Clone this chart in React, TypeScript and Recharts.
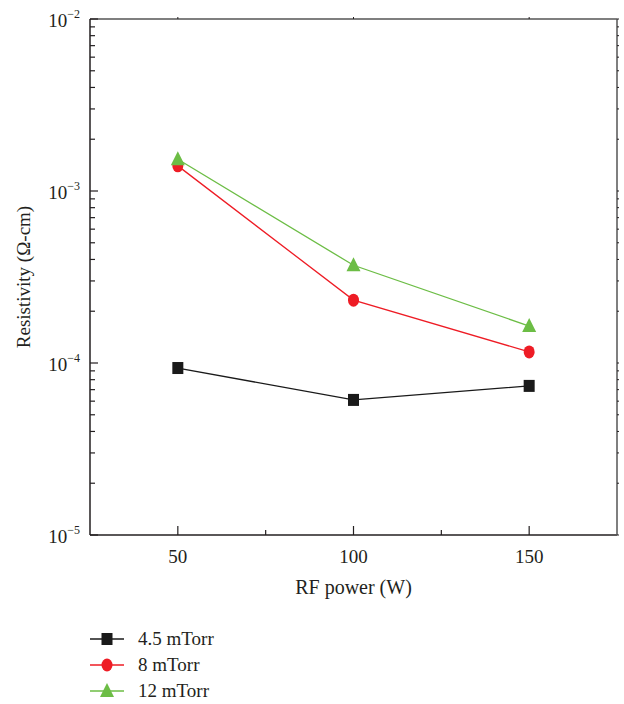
import { LineChart, Line, XAxis, YAxis } from "recharts";

const powers = [50, 100, 150];
const series45 = [9.35e-5, 6.1e-5, 7.36e-5];
const series8 = [1.4e-3, 2.32e-4, 1.16e-4];
const series12 = [1.53e-3, 3.7e-4, 1.64e-4];

const seriesNames = ["4.5 mTorr", "8 mTorr", "12 mTorr"];
const seriesColors = ["#1a1a1a", "#ee1c25", "#6cbd45"];
const seriesShapes = ["square", "circle", "triangle"];

const xTicks = [50, 75, 100, 125, 150];
const xLabelTicks = [50, 100, 150];
const decades = [1e-5, 1e-4, 1e-3, 1e-2];
const decadeExps = ["−5", "−4", "−3", "−2"];
const minorMults = [2, 3, 4, 5, 6, 7, 8, 9];

const yTicks: number[] = [];
decades.forEach((d, i) => {
  yTicks.push(d);
  if (i < decades.length - 1) minorMults.forEach((m) => yTicks.push(d * m));
});

const data = powers.map((p, i) => ({
  power: p,
  s45: series45[i],
  s8: series8[i],
  s12: series12[i],
}));

const FONT = "'Liberation Serif', 'Times New Roman', serif";
const AXIS = "#231f20";
const FRAME = "#555555";

const isDecade = (v: number) => decades.some((d) => Math.abs(v - d) / d < 1e-6);

const Marker = ({ shape, cx, cy, color }: any) => {
  if (cx == null || cy == null) return null;
  if (shape === "square") return <rect x={cx - 5.5} y={cy - 6} width={11} height={12} fill={color} />;
  if (shape === "circle") return <ellipse cx={cx} cy={cy} rx={5.5} ry={6.5} fill={color} />;
  return <polygon points={`${cx},${cy - 8} ${cx - 7},${cy + 6} ${cx + 7},${cy + 6}`} fill={color} />;
};

const LeftTick = ({ x, y, payload }: any) => {
  const major = isDecade(payload.value);
  const idx = decades.findIndex((d) => Math.abs(payload.value - d) / d < 1e-6);
  return (
    <g>
      <line x1={x} x2={x + (major ? 8 : 5)} y1={y} y2={y} stroke={AXIS} strokeWidth={1.2} />
      {major && (
        <text x={x - 10} y={y + 8} textAnchor="end" fontFamily={FONT} fontSize={19} fill="#231f20">
          10
          <tspan dy={-9} fontSize={12}>{decadeExps[idx]}</tspan>
        </text>
      )}
    </g>
  );
};

// tiny outward marks on the mirrored right axis
const RightTick = ({ x, y }: any) => (
  <line x1={x} x2={x + 2} y1={y} y2={y} stroke={AXIS} strokeWidth={1} />
);

const BottomTick = ({ x, y, payload }: any) => {
  const major = xLabelTicks.includes(payload.value);
  return (
    <g>
      <line x1={x} x2={x} y1={y} y2={y - (major ? 9 : 5)} stroke={AXIS} strokeWidth={1.2} />
      {major && (
        <text x={x} y={y + 28} textAnchor="middle" fontFamily={FONT} fontSize={19} fill="#231f20">
          {payload.value}
        </text>
      )}
    </g>
  );
};

const TopTick = ({ x, y, payload }: any) => {
  if (!xLabelTicks.includes(payload.value)) return <g />;
  return <line x1={x} x2={x} y1={y} y2={y - 2} stroke={AXIS} strokeWidth={1} />;
};

const YLabel = ({ viewBox }: any) => {
  const cx = 23;
  const cy = viewBox.y + viewBox.height / 2;
  return (
    <text
      x={cx}
      y={cy}
      transform={`rotate(-90, ${cx}, ${cy})`}
      textAnchor="middle"
      dominantBaseline="central"
      fontFamily={FONT}
      fontSize={19}
      fill="#231f20"
    >
      Resistivity (Ω-cm)
    </text>
  );
};

const keys = ["s45", "s8", "s12"];

export default function App() {
  return (
    <div style={{ position: "absolute", left: 0, top: 0, width: 624, height: 704, background: "#fff" }}>
      <LineChart width={624} height={600} data={data} margin={{ top: 18, right: 6, left: 0, bottom: 0 }}>
        <XAxis
          xAxisId="bottom"
          dataKey="power"
          type="number"
          domain={[25, 175]}
          ticks={xTicks}
          interval={0}
          height={65}
          tickSize={0}
          tickMargin={0}
          tickLine={false}
          axisLine={{ stroke: AXIS, strokeWidth: 1.5 }}
          tick={<BottomTick />}
          label={{
            value: "RF power (W)",
            position: "insideBottom",
            offset: 6,
            fontFamily: FONT,
            fontSize: 20,
            fill: "#231f20",
          }}
        />
        <XAxis
          xAxisId="top"
          orientation="top"
          dataKey="power"
          type="number"
          domain={[25, 175]}
          ticks={xTicks}
          interval={0}
          height={1}
          tickSize={0}
          tickMargin={0}
          tickLine={false}
          axisLine={{ stroke: FRAME, strokeWidth: 1.5 }}
          tick={<TopTick />}
        />
        <YAxis
          yAxisId="left"
          type="number"
          scale="log"
          domain={[1e-5, 1e-2]}
          allowDataOverflow
          ticks={yTicks}
          interval={0}
          width={90}
          tickSize={0}
          tickMargin={0}
          tickLine={false}
          axisLine={{ stroke: AXIS, strokeWidth: 1.5 }}
          tick={<LeftTick />}
          label={<YLabel />}
        />
        <YAxis
          yAxisId="right"
          orientation="right"
          type="number"
          scale="log"
          domain={[1e-5, 1e-2]}
          allowDataOverflow
          ticks={yTicks}
          interval={0}
          width={1}
          tickSize={0}
          tickMargin={0}
          tickLine={false}
          axisLine={{ stroke: FRAME, strokeWidth: 1.5 }}
          tick={<RightTick />}
        />
        {keys.map((k, i) => (
          <Line
            key={k}
            xAxisId="bottom"
            yAxisId="left"
            dataKey={k}
            name={seriesNames[i]}
            stroke={seriesColors[i]}
            strokeWidth={1.3}
            isAnimationActive={false}
            dot={(p: any) => (
              <Marker key={`${k}-${p.index}`} shape={seriesShapes[i]} cx={p.cx} cy={p.cy} color={seriesColors[i]} />
            )}
            activeDot={false}
          />
        ))}
      </LineChart>
      <svg width={624} height={104} style={{ position: "absolute", left: 0, top: 600 }}>
        {seriesNames.map((n, i) => {
          const cy = 39 + i * 26;
          return (
            <g key={n}>
              <line x1={90} x2={124} y1={cy} y2={cy} stroke={seriesColors[i]} strokeWidth={1.3} />
              <Marker shape={seriesShapes[i]} cx={107} cy={cy} color={seriesColors[i]} />
              <text x={138} y={cy + 6} fontFamily={FONT} fontSize={19} fill="#231f20">
                {n}
              </text>
            </g>
          );
        })}
      </svg>
    </div>
  );
}
